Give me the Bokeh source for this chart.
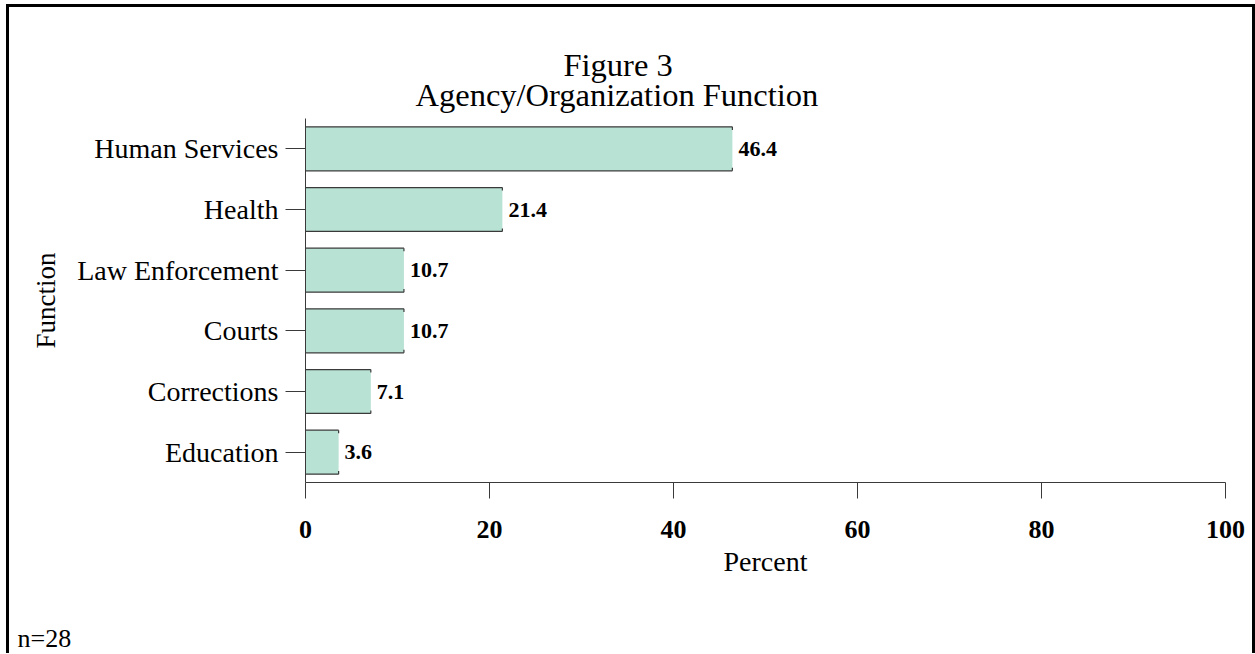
from bokeh.plotting import figure
from bokeh.models import Range1d, FixedTicker, Title, ColumnDataSource
from bokeh.layouts import column
from bokeh.transform import dodge
from bokeh.core.properties import value
from bokeh.embed import file_html
from bokeh.resources import INLINE

# ---- data ----
categories = ["Human Services", "Health", "Law Enforcement", "Courts", "Corrections", "Education"]
percents = [46.4, 21.4, 10.7, 10.7, 7.1, 3.6]
labels = ["46.4", "21.4", "10.7", "10.7", "7.1", "3.6"]
x_ticks = [0, 20, 40, 60, 80, 100]
title_line1 = "Figure 3"
title_line2 = "Agency/Organization Function"
note = "n=28"

FONT = "Liberation Serif"
BAR_FILL = "#b8e2d3"
EDGE = "#3a3a3a"
HALF = 0.362

src = ColumnDataSource(dict(cat=categories, val=percents, lab=labels, zero=[0] * len(categories)))

p = figure(
    width=1243, height=614,
    y_range=list(reversed(categories)),
    x_range=Range1d(0, 100),
    output_backend="svg", toolbar_location=None,
    min_border_left=296, min_border_right=27, min_border_top=111, min_border_bottom=139,
)
p.title = None
p.outline_line_color = None
p.xgrid.grid_line_color = None
p.ygrid.grid_line_color = None
p.y_range.range_padding = 0

# bars
p.hbar(y="cat", left=0, right="val", height=2 * HALF, fill_color=BAR_FILL, line_color=None, source=src)
p.segment(x0="zero", x1="val", y0=dodge("cat", HALF, range=p.y_range), y1=dodge("cat", HALF, range=p.y_range),
          line_color=EDGE, line_width=1.2, source=src)
p.segment(x0="zero", x1="val", y0=dodge("cat", -HALF, range=p.y_range), y1=dodge("cat", -HALF, range=p.y_range),
          line_color=EDGE, line_width=1.2, source=src)
p.segment(x0="val", x1="val", y0=dodge("cat", HALF, range=p.y_range), y1=dodge("cat", HALF - 0.05, range=p.y_range),
          line_color=EDGE, line_width=1.2, source=src)
p.segment(x0="val", x1="val", y0=dodge("cat", -HALF, range=p.y_range), y1=dodge("cat", -HALF + 0.05, range=p.y_range),
          line_color=EDGE, line_width=1.2, source=src)

# value labels
p.text(x="val", y="cat", text="lab", x_offset=6, text_baseline="middle", text_align="left",
       text_font=value(FONT), text_font_style="bold", text_font_size="22px", text_color="black", source=src)

# x axis
xa = p.xaxis[0]
xa.ticker = FixedTicker(ticks=x_ticks)
xa.minor_tick_line_color = None
xa.major_tick_in = 0
xa.major_tick_out = 16
xa.major_tick_line_color = EDGE
xa.axis_line_color = EDGE
xa.major_label_text_font = FONT
xa.major_label_text_font_style = "bold"
xa.major_label_text_font_size = "26px"
xa.major_label_text_color = "black"
xa.major_label_standoff = 22
xa.axis_label = "Percent"
xa.axis_label_text_font = FONT
xa.axis_label_text_font_style = "normal"
xa.axis_label_text_font_size = "28px"
xa.axis_label_text_color = "black"
xa.axis_label_standoff = 5

# y axis
ya = p.yaxis[0]
ya.minor_tick_line_color = None
ya.major_tick_in = 0
ya.major_tick_out = 20
ya.major_tick_line_color = EDGE
ya.axis_line_color = EDGE
ya.major_label_text_font = FONT
ya.major_label_text_font_style = "normal"
ya.major_label_text_font_size = "28px"
ya.major_label_text_color = "black"
ya.major_label_standoff = 7
ya.axis_label = "Function"
ya.axis_label_text_font = FONT
ya.axis_label_text_font_style = "normal"
ya.axis_label_text_font_size = "27px"
ya.axis_label_text_color = "black"
ya.axis_label_standoff = 13

# titles (stacked outward from the plot frame)
p.add_layout(Title(text=title_line2, align="left", offset=110, text_font=FONT, text_font_style="normal",
                   text_font_size="32.5px", text_color="black", standoff=12), "above")
p.add_layout(Title(text=title_line1, align="left", offset=258, text_font=FONT, text_font_style="normal",
                   text_font_size="32.5px", text_color="black", standoff=-28), "above")

# note strip below the chart (its frame is aligned with the chart frame)
p2 = figure(width=1243, height=32, x_range=Range1d(0, 1), y_range=Range1d(0, 1),
            x_axis_location=None, y_axis_location=None,
            output_backend="svg", toolbar_location=None, min_border=0)
p2.outline_line_color = None
p2.grid.visible = False
p2.title.text = note
p2.title.align = "left"
p2.title.offset = -288
p2.title.standoff = 0
p2.title.text_font = FONT
p2.title.text_font_style = "normal"
p2.title.text_font_size = "26px"
p2.title.text_color = "black"

layout = column(p, p2, spacing=0,
                styles={"border": "3px solid black", "border-bottom": "none",
                        "margin-left": "6px", "margin-top": "4px"})

open("out.html", "w").write(file_html(layout, INLINE))
